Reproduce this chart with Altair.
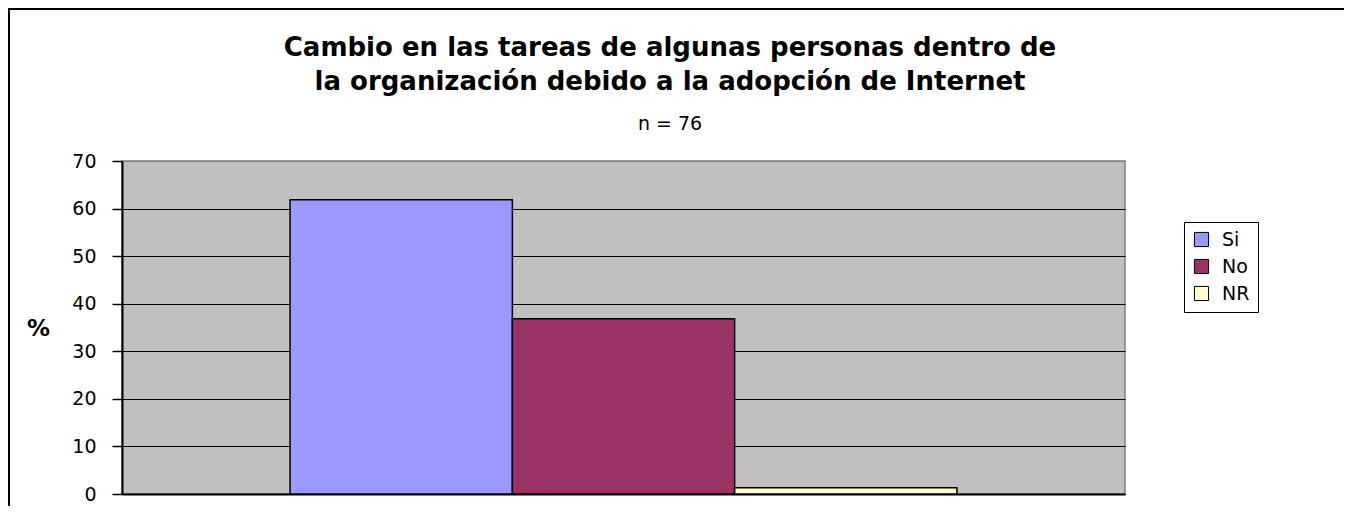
import altair as alt
import pandas as pd

categories = ["Si", "No", "NR"]
values = [61.84, 36.84, 1.32]
colors = ["#9999FF", "#993366", "#FFFFCC"]
y_ticks = [0, 10, 20, 30, 40, 50, 60, 70]
title_lines = ["Cambio en las tareas de algunas personas dentro de",
               "la organización debido a la adopción de Internet"]
subtitle = "n = 76"

df = pd.DataFrame({"serie": categories, "valor": values})
df_t1 = pd.DataFrame({"t": [title_lines[0]]})
df_t2 = pd.DataFrame({"t": [title_lines[1]]})
df_sub = pd.DataFrame({"t": [subtitle]})

FONT = "DejaVu Sans"

bars = alt.Chart(df).mark_bar(stroke="black", strokeWidth=1.5).encode(
    x=alt.X("serie:N", sort=categories,
            scale=alt.Scale(domain=categories, paddingInner=0, paddingOuter=0.756),
            axis=alt.Axis(title=None, labels=False, ticks=False, domainColor="black",
                          domainWidth=2, grid=False)),
    y=alt.Y("valor:Q",
            scale=alt.Scale(domain=[0, 70], nice=False),
            axis=alt.Axis(values=y_ticks, title="%", titleAngle=0, titleFont=FONT,
                          titleFontSize=23, titleFontWeight="bold", titleColor="black",
                          titleX=-84, titleY=167, titleAlign="center", titleBaseline="middle",
                          labelFont=FONT, labelFontSize=19, labelColor="black",
                          labelPadding=16, tickSize=10, tickColor="black", tickWidth=1.5,
                          domainColor="black", domainWidth=2,
                          grid=True,
                          gridColor=alt.condition("datum.value == 70", alt.value("#808080"), alt.value("black")),
                          gridWidth=1.2, gridOpacity=1)),
    color=alt.Color("serie:N", sort=categories,
                    scale=alt.Scale(domain=categories, range=colors),
                    legend=alt.Legend(title=None, orient="none", legendX=1062, legendY=61,
                                      strokeColor="black", fillColor="white", padding=8,
                                      symbolType="square", symbolSize=200,
                                      symbolStrokeColor="black", symbolStrokeWidth=1,
                                      symbolOpacity=1, labelFont=FONT, labelFontSize=19,
                                      labelColor="black", rowPadding=7, labelOffset=11,
                                      labelLimit=200)),
)

t1 = alt.Chart(df_t1).mark_text(font=FONT, fontSize=26, fontWeight="bold", color="black",
                                 align="center", baseline="middle").encode(
    text="t:N", x=alt.value(548), y=alt.value(-113))
t2 = alt.Chart(df_t2).mark_text(font=FONT, fontSize=26, fontWeight="bold", color="black",
                                 align="center", baseline="middle").encode(
    text="t:N", x=alt.value(548), y=alt.value(-79))
t3 = alt.Chart(df_sub).mark_text(font=FONT, fontSize=19, color="black",
                                 align="center", baseline="middle").encode(
    text="t:N", x=alt.value(548), y=alt.value(-37))

frame_top = alt.Chart(df).mark_rule(color="black", strokeWidth=2).encode(
    x=alt.value(-114), x2=alt.value(1300), y=alt.value(-152))
frame_left = alt.Chart(df).mark_rule(color="black", strokeWidth=2).encode(
    x=alt.value(-113), y=alt.value(-153), y2=alt.value(400))

chart = alt.layer(bars, t1, t2, t3, frame_top, frame_left).properties(
    width=1003, height=333,
    autosize=alt.AutoSizeParams(type="none"),
    padding={"left": 114, "top": 153, "right": 219, "bottom": 12},
).configure_view(fill="#C0C0C0", stroke="#808080", strokeWidth=1.5)

chart.save("out.html", embed_options={"renderer": "svg", "actions": False})
